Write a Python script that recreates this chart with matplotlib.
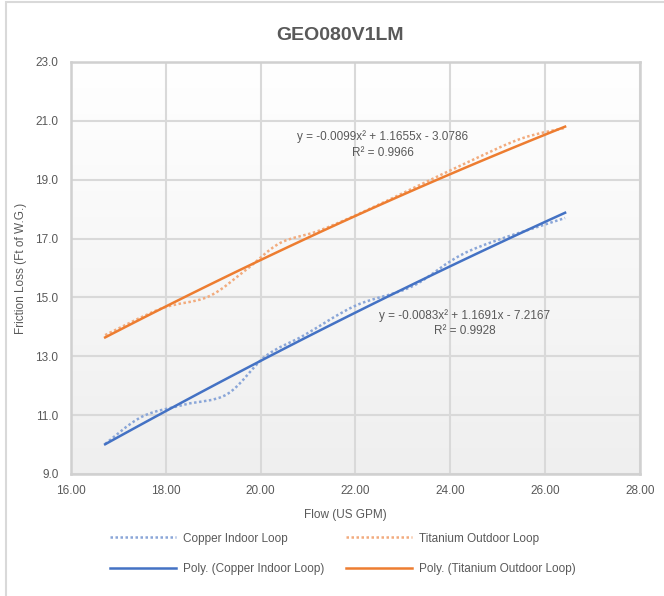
import numpy as np
import matplotlib
matplotlib.use("Agg")
import matplotlib.pyplot as plt
from matplotlib.path import Path
from matplotlib.patches import PathPatch, Rectangle
from matplotlib.lines import Line2D

# Data
flow_copper = [16.72, 17.5, 18.4, 19.3, 20.1, 20.9, 22.0, 23.2, 24.4, 26.42]
copper = [10.02, 10.95, 11.36, 11.72, 13.00, 13.70, 14.72, 15.38, 16.58, 17.70]
flow_titanium = [16.72, 17.9, 18.9, 19.7, 20.4, 21.2, 22.1, 23.2, 24.4, 25.5, 26.42]
titanium = [13.72, 14.62, 15.03, 15.95, 16.84, 17.25, 17.86, 18.70, 19.62, 20.40, 20.76]

# trendline coefficients shown on the chart
copper_poly = [-0.0083, 1.1691, -7.2167]
titanium_poly = [-0.0099, 1.1655, -3.0786]
copper_eq = "y = -0.0083x² + 1.1691x - 7.2167\nR² = 0.9928"
titanium_eq = "y = -0.0099x² + 1.1655x - 3.0786\nR² = 0.9966"

x_ticks = [16, 18, 20, 22, 24, 26, 28]
y_ticks = [9, 11, 13, 15, 17, 19, 21, 23]

blue = "#4472C4"
orange = "#ED7D31"
blue_light = "#8aa6d8"
orange_light = "#f2ab7d"
grey_text = "#595959"

plt.rcParams['font.family'] = ['Liberation Sans', 'DejaVu Sans']


def smooth_path(xs, ys):
    # Excel style smoothed line (bezier through each point)
    pts = np.column_stack([xs, ys])
    n = len(pts)
    verts = [pts[0]]
    codes = [Path.MOVETO]
    for i in range(n - 1):
        p0 = pts[max(i - 1, 0)]
        p1 = pts[i]
        p2 = pts[i + 1]
        p3 = pts[min(i + 2, n - 1)]
        c1 = p1 + (p2 - p0) / 6
        c2 = p2 - (p3 - p1) / 6
        verts += [c1, c2, p2]
        codes += [Path.CURVE4] * 3
    return Path(verts, codes)


fig = plt.figure(figsize=(6.64, 5.96), dpi=100)
ax = fig.add_axes([71 / 664, 1 - 474 / 596, 569 / 664, 412 / 596])

ax.set_xlim(16, 28)
ax.set_ylim(9, 23)

# plot area gradient
grad = np.linspace(0, 1, 256).reshape(-1, 1)
cmap = matplotlib.colors.LinearSegmentedColormap.from_list("bg", ["#ffffff", "#efefef"])
ax.imshow(grad, extent=[16, 28, 9, 23], aspect='auto', cmap=cmap, zorder=0, origin='upper')

ax.set_xticks(x_ticks)
ax.set_yticks(y_ticks)
ax.xaxis.set_major_formatter(matplotlib.ticker.FormatStrFormatter('%.2f'))
ax.yaxis.set_major_formatter(matplotlib.ticker.FormatStrFormatter('%.1f'))
ax.tick_params(length=0, labelsize=8.5, labelcolor=grey_text)
ax.tick_params(axis='x', pad=8)
ax.tick_params(axis='y', pad=9)
ax.grid(True, color="#d9d9d9", linewidth=1.5)
ax.set_axisbelow(True)
for s in ax.spines.values():
    s.set_color("#d0d0d0")
    s.set_linewidth(1.8)

# smoothed data series
for xs, ys, c in [(flow_copper, copper, blue_light), (flow_titanium, titanium, orange_light)]:
    patch = PathPatch(smooth_path(xs, ys), fill=False, edgecolor=c,
                      linewidth=1.8, linestyle=(0, (1, 1)), zorder=3)
    ax.add_patch(patch)

# polynomial trendlines
xc = np.linspace(min(flow_copper), max(flow_copper), 100)
xt = np.linspace(min(flow_titanium), max(flow_titanium), 100)
ax.plot(xc, np.polyval(copper_poly, xc), color=blue, linewidth=1.8, zorder=4)
ax.plot(xt, np.polyval(titanium_poly, xt), color=orange, linewidth=1.8, zorder=4)

ax.text(0.548, 0.80, titanium_eq, transform=ax.transAxes, ha='center', va='center',
        fontsize=8.5, color=grey_text, linespacing=1.4)
ax.text(0.692, 0.366, copper_eq, transform=ax.transAxes, ha='center', va='center',
        fontsize=8.5, color=grey_text, linespacing=1.4)

ax.set_ylabel("Friction Loss (Ft of W.G.)", fontsize=8.5, color=grey_text)
ax.yaxis.set_label_coords(-(71 - 27) / 569, 0.5)
fig.text(345 / 664, 1 - 515 / 596, "Flow (US GPM)", ha='center', va='center',
         fontsize=8.5, color=grey_text)
fig.text(340 / 664, 1 - 36 / 596, "GEO080V1LM", ha='center', va='center',
         fontsize=14, fontweight='bold', color=grey_text)

handles = [
    Line2D([], [], color=blue_light, linewidth=1.8, linestyle=(0, (1, 1))),
    Line2D([], [], color=blue, linewidth=1.8),
    Line2D([], [], color=orange_light, linewidth=1.8, linestyle=(0, (1, 1))),
    Line2D([], [], color=orange, linewidth=1.8),
]
labels = ["Copper Indoor Loop", "Poly. (Copper Indoor Loop)",
          "Titanium Outdoor Loop", "Poly. (Titanium Outdoor Loop)"]
fig.legend(handles, labels, ncol=2, loc='center', bbox_to_anchor=(343 / 664, 1 - 554 / 596),
           frameon=False, fontsize=8.5, handlelength=5.6, handletextpad=0.6,
           columnspacing=1.8, labelspacing=1.6, labelcolor=grey_text)

# chart area border
fig.patches.append(Rectangle((6 / 664, -0.1), 1.2, 1 - 2 / 596 + 0.1, transform=fig.transFigure,
                             fill=False, edgecolor="#d9d9d9", linewidth=1.5))

fig.savefig("out.png", dpi=100)
